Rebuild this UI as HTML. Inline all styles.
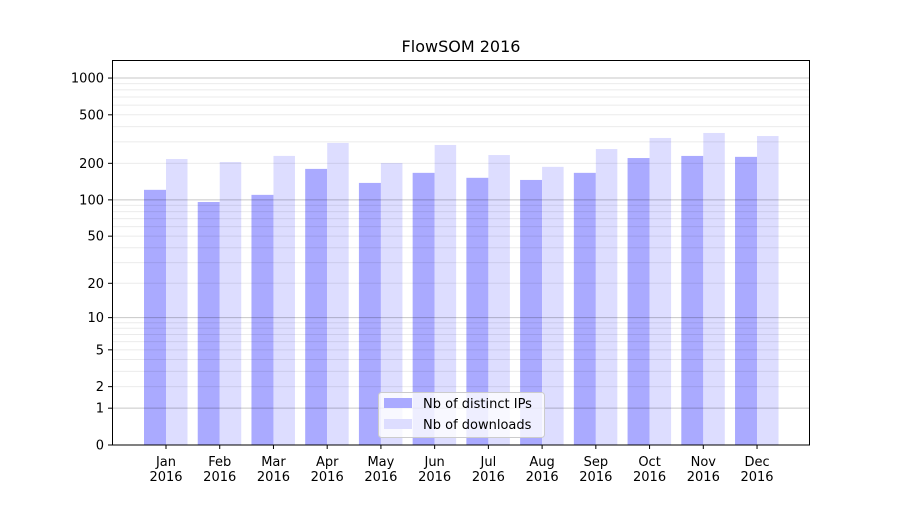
<!DOCTYPE html>
<html><head><meta charset="utf-8"><style>
html,body{margin:0;padding:0;background:#fff;}
svg text{font-family:"DejaVu Sans","Liberation Sans",sans-serif;}
</style></head><body>
<svg width="900" height="500" viewBox="0 0 900 500" xmlns="http://www.w3.org/2000/svg">
<rect width="900" height="500" fill="#fff"/>
<g id="bars"></g>
<g id="grid"></g>
<rect x="112.5" y="60.5" width="697" height="384.5" fill="none" stroke="#000" stroke-width="1"/>
<g id="axes" font-size="13" fill="#000"></g>
<text x="461" y="52" font-size="16" text-anchor="middle">FlowSOM 2016</text>
<g>
<rect x="378.5" y="392.5" width="166" height="45" rx="3" fill="#fff" fill-opacity="0.8" stroke="#ccc"/>
<rect x="384" y="398" width="28" height="10" fill="#aaaaff"/>
<text x="423" y="408" font-size="13">Nb of distinct IPs</text>
<rect x="384" y="419" width="28" height="10" fill="#ddddff"/>
<text x="423" y="429" font-size="13">Nb of downloads</text>
</g>
<script>
const ns="http://www.w3.org/2000/svg";
function Y(v){return 445-122.3*Math.log10(v+1);}
function el(t,a,p,txt){const e=document.createElementNS(ns,t);for(const k in a)e.setAttribute(k,a[k]);if(txt!==undefined)e.textContent=txt;p.appendChild(e);return e;}
const g=document.getElementById('grid'),b=document.getElementById('bars'),ax=document.getElementById('axes');
for(let d=1;d<=100;d*=10){for(let m=2;m<=9;m++){const y=Y(m*d);el('line',{x1:112,x2:810,y1:y,y2:y,stroke:'#000','stroke-opacity':0.08,'stroke-width':1},g);}}
[1,10,100,1000].forEach(v=>{const y=Y(v);el('line',{x1:112,x2:810,y1:y,y2:y,stroke:'#000','stroke-opacity':0.22,'stroke-width':1},g);});
const ips=[121,96,110,180,138,167,152,146,167,221,230,226];
const dl=[217,205,230,294,201,283,234,187,262,323,355,335];
const mon=['Jan','Feb','Mar','Apr','May','Jun','Jul','Aug','Sep','Oct','Nov','Dec'];
for(let i=0;i<12;i++){const c=166+i*53.73;
el('rect',{x:c-22,y:Y(ips[i]),width:22,height:445-Y(ips[i]),fill:'#aaaaff'},b);
el('rect',{x:c,y:Y(dl[i]),width:21.5,height:445-Y(dl[i]),fill:'#ddddff'},b);
el('line',{x1:c,x2:c,y1:445,y2:449,stroke:'#000'},ax);
el('text',{x:c,y:466,'text-anchor':'middle'},ax,mon[i]);
el('text',{x:c,y:481,'text-anchor':'middle'},ax,'2016');}
[0,1,2,5,10,20,50,100,200,500,1000].forEach(v=>{const y=Y(v);
el('line',{x1:108,x2:112,y1:y,y2:y,stroke:'#000'},ax);
el('text',{x:104,y:y+4.5,'text-anchor':'end'},ax,String(v));});
</script>
</svg>
</body></html>
